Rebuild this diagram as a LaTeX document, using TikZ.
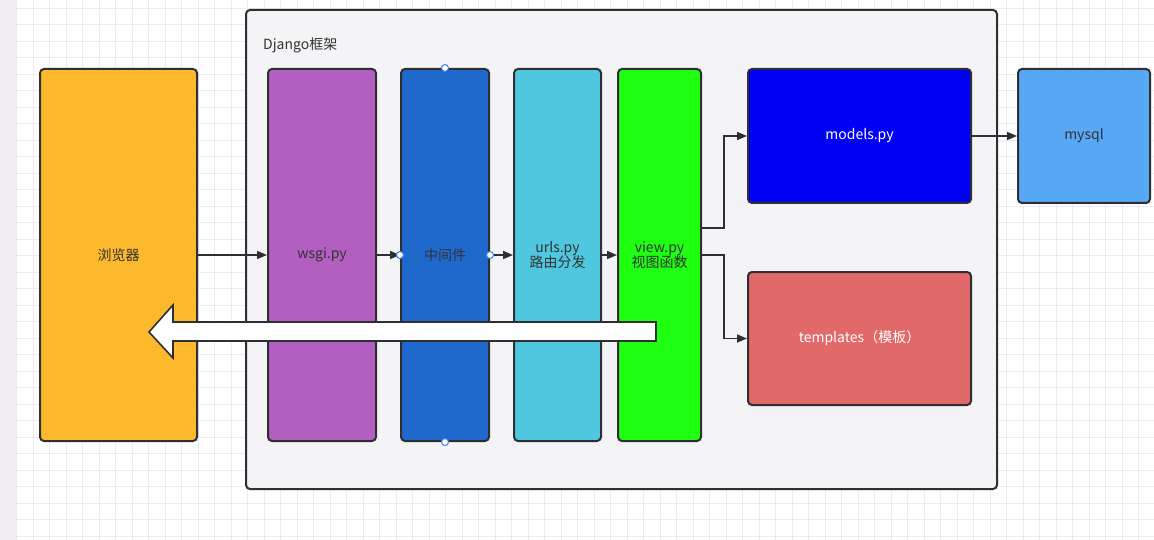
\documentclass[tikz,border=0pt]{standalone}
\usepackage{fontspec}
\setmainfont{Noto Sans CJK SC}
\usetikzlibrary{arrows.meta,calc}
\definecolor{gridc}{HTML}{ECECF0}
\definecolor{stripc}{HTML}{EFEDF1}
\definecolor{framefill}{HTML}{F4F4F6}
\definecolor{edge}{HTML}{2E2E33}
\definecolor{txt}{HTML}{333333}
\definecolor{cbrowser}{HTML}{FCB92C}
\definecolor{cwsgi}{HTML}{B35FC1}
\definecolor{cmid}{HTML}{1F68CC}
\definecolor{curls}{HTML}{4FC7DF}
\definecolor{cview}{HTML}{1EFF12}
\definecolor{cmodels}{HTML}{0000F5}
\definecolor{ctpl}{HTML}{E2696A}
\definecolor{cmysql}{HTML}{58A9F5}
\definecolor{handle}{HTML}{3B82F6}
\tikzset{
  box/.style={draw=edge, line width=2pt, rounded corners=4pt, inner sep=0pt,
    font=\fontsize{14}{17}\selectfont, text=txt, align=center, anchor=center},
  arr/.style={draw=edge, line width=1.6pt, -{Triangle[length=10pt,width=8pt]}},
  hdl/.style={circle, draw=handle, fill=white, line width=1pt, minimum size=7pt, inner sep=0pt},
}
\begin{document}
\begin{tikzpicture}[x=1pt,y=-1pt]
\useasboundingbox (0,0) rectangle (1154,540);
\fill[white] (0,0) rectangle (1154,540);
\foreach \i in {0,...,70} {\draw[gridc, line width=0.8pt] (16.5*\i+16.5,0) -- (16.5*\i+16.5,540);}
\foreach \j in {0,...,33} {\draw[gridc, line width=0.8pt] (0,16.5*\j+8) -- (1154,16.5*\j+8);}
\fill[stripc] (0,0) rectangle (16,540);
% frame
\node[box, fill=framefill, minimum width=751pt, minimum height=479pt] (frame) at (621.5,249.5) {};
\node[anchor=west, font=\fontsize{14}{17}\selectfont, text=txt, inner sep=0pt] (flabel) at (263,45) {Django框架};
% boxes
\node[box, fill=cbrowser, minimum width=157pt, minimum height=372pt] (browser) at (118.5,255) {浏览器};
\node[box, fill=cwsgi, minimum width=108pt, minimum height=372pt] (wsgi) at (322,255) {wsgi.py};
\node[box, fill=cmid, minimum width=88pt, minimum height=372pt] (mid) at (445,255) {中间件};
\node[box, fill=curls, minimum width=87pt, minimum height=372pt] (urls) at (557.5,255) {urls.py\\[-2pt]路由分发};
\node[box, fill=cview, minimum width=83pt, minimum height=372pt] (view) at (659.5,255) {view.py\\[-2pt]视图函数};
\node[box, fill=cmodels, text=white, minimum width=223pt, minimum height=134pt] (models) at (859.5,136) {models.py};
\node[box, fill=ctpl, text=white, minimum width=223pt, minimum height=133pt] (tpl) at (859.5,338.5) {templates（模板）};
\node[box, fill=cmysql, minimum width=132pt, minimum height=134pt] (mysql) at (1084,136) {mysql};
% connectors
\draw[arr] (browser.east) -- (wsgi.west);
\draw[arr] (wsgi.west -| wsgi.east) -- (mid.west);
\draw[arr] (mid.east) -- (urls.west);
\draw[arr] (urls.east) -- (view.west);
\draw[arr] ([yshift=27pt]view.east) -- ++(22,0) |- (models.west);
\draw[arr] (view.east) -- ++(22,0) |- (tpl.west);
\draw[arr] (models.east) -- (mysql.west);
% big return arrow
\coordinate (rtip) at (149,332);
\draw[draw=edge, fill=white, line width=1.6pt, line join=miter]
  (656,322) -- (173,322) -- (173,305) -- (rtip) -- (173,358) -- (173,341) -- (656,341) -- cycle;
% selection handles
\node[hdl] (h1) at (mid.north) {};
\node[hdl] (h2) at (mid.south) {};
\node[hdl] (h3) at (mid.west) {};
\node[hdl] (h4) at (mid.east) {};
\end{tikzpicture}
\end{document}
